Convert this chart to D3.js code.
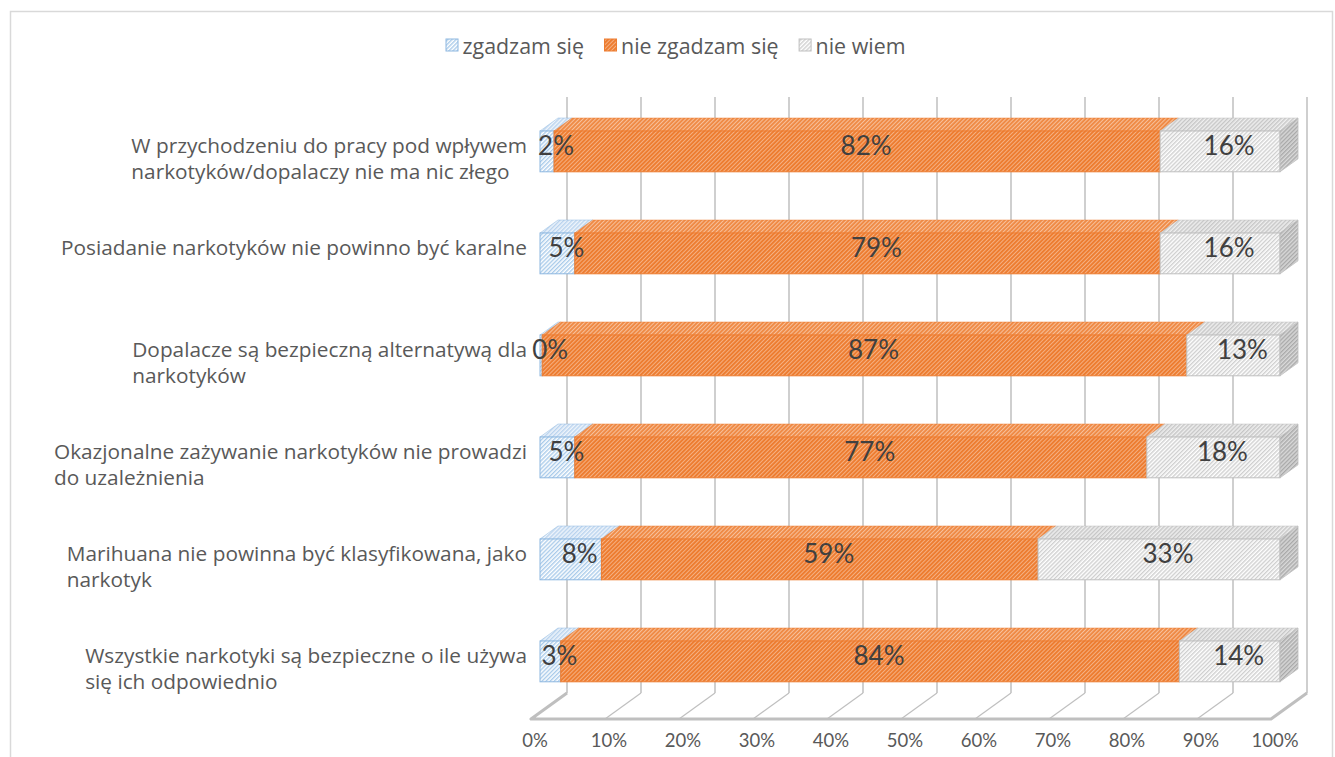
<!DOCTYPE html>
<html><head><meta charset="utf-8">
<script src="https://cdn.jsdelivr.net/npm/d3@7"></script>
<style>
html,body{margin:0;padding:0;background:#fff;}
text{font-family:Lato,"Open Sans",sans-serif;}
text.os{font-family:"Open Sans",Lato,sans-serif;}
</style>
</head><body>
<svg id="chart" width="1335" height="757"></svg>
<script>
// ---- data ----
const categories = [
  "W przychodzeniu do pracy pod wpływem\nnarkotyków/dopalaczy nie ma nic złego",
  "Posiadanie narkotyków nie powinno być karalne",
  "Dopalacze są bezpieczną alternatywą dla\nnarkotyków",
  "Okazjonalne zażywanie narkotyków nie prowadzi\ndo uzależnienia",
  "Marihuana nie powinna być klasyfikowana, jako\nnarkotyk",
  "Wszystkie narkotyki są bezpieczne o ile używa\nsię ich odpowiednio"
];
const seriesNames = ["zgadzam się", "nie zgadzam się", "nie wiem"];
const agree    = [1.9, 4.7, 0.3, 4.7, 8.3, 2.8];
const disagree = [81.9, 79.1, 87.1, 77.3, 59.0, 83.6];
const dontKnow = [16.2, 16.2, 12.6, 18.0, 32.7, 13.6];
const tickValues = [0, 10, 20, 30, 40, 50, 60, 70, 80, 90, 100];
const tickLabels = ["0%", "10%", "20%", "30%", "40%", "50%", "60%", "70%", "80%", "90%", "100%"];

// ---- layout ----
const svg = d3.select("#chart");
const x = d3.scaleLinear().domain([0, 100]).range([540, 1280]);
const y = d3.scaleBand().domain(categories).range([100.4, 712.4]).paddingInner(0.6).paddingOuter(0.3);
const DX = 36, DY = 26;           // full depth of the 3D floor
const bDX = DX / 2, bDY = DY / 2; // bar depth
const frontOff = {dx: -DX / 4, dy: DY / 4};
const wallOff = {dx: DX * 3 / 4, dy: -DY * 3 / 4};
const floorFrontY = 719, floorBackY = 693, wallTop = 97;

// outer frame
svg.append("rect").attr("x", 10.5).attr("y", 11.5).attr("width", 1322).attr("height", 760)
  .attr("fill", "#fff").attr("stroke", "#D9D9D9").attr("stroke-width", 1.5);

// patterns
const defs = svg.append("defs");
function pattern(id, bg, stripe, sw) {
  const p = defs.append("pattern").attr("id", id).attr("patternUnits", "userSpaceOnUse")
    .attr("width", 2.9).attr("height", 2.9).attr("patternTransform", "rotate(45)");
  p.append("rect").attr("width", 2.9).attr("height", 2.9).attr("fill", bg);
  p.append("rect").attr("width", sw).attr("height", 2.9).attr("fill", stripe);
}
const styles = [
  {front: ["#FFFFFF", "#A9CBEA", 1.4], top: ["#EEF4FB", "#B9D3EE", 1.4], side: ["#D6E5F4", "#8DB7E0", 1.4], stroke: "#8DB7E0"},
  {front: ["#ED7D31", "#F6B488", 0.9], top: ["#EF8A45", "#F7C09B", 1.0], side: ["#D66A22", "#EC9A62", 1.0], stroke: "#ED7D31"},
  {front: ["#FFFFFF", "#CFCFCF", 1.4], top: ["#EFEFEF", "#C6C6C6", 1.4], side: ["#D9D9D9", "#A9A9A9", 1.4], stroke: "#BFBFBF"}
];
styles.forEach((s, i) => {
  pattern("f" + i, ...s.front);
  pattern("t" + i, ...s.top);
  pattern("s" + i, ...s.side);
});

// back wall gridlines
svg.append("g").selectAll("line").data(tickValues).join("line")
  .attr("x1", d => x(d) + wallOff.dx).attr("x2", d => x(d) + wallOff.dx)
  .attr("y1", wallTop).attr("y2", floorBackY)
  .attr("stroke", "#BFBFBF").attr("stroke-width", 1.5);

// floor
const floor = svg.append("g");
floor.selectAll("line").data(tickValues).join("line")
  .attr("x1", d => x(d) + frontOff.dx).attr("y1", floorFrontY)
  .attr("x2", d => x(d) + wallOff.dx).attr("y2", floorBackY)
  .attr("stroke", "#BFBFBF").attr("stroke-width", 1.2);
floor.append("path")
  .attr("d", `M${x(0) + wallOff.dx},${floorBackY} L${x(0) + frontOff.dx},${floorFrontY} L${x(100) + frontOff.dx},${floorFrontY} L${x(100) + wallOff.dx},${floorBackY}`)
  .attr("fill", "none").attr("stroke", "#BFBFBF").attr("stroke-width", 3).attr("stroke-linejoin", "round");

// tick labels
svg.append("g").selectAll("text").data(tickValues).join("text")
  .attr("x", d => x(d) - 5).attr("y", 740)
  .attr("text-anchor", "middle").attr("dominant-baseline", "central")
  .attr("font-size", 18.5).attr("fill", "#595959")
  .text((d, i) => tickLabels[i]);

// bars
const series = [agree, disagree, dontKnow];
const rows = categories.map((c, ri) => {
  let acc = 0;
  return series.map((s, si) => {
    const v0 = acc; acc += s[ri];
    return {cat: c, si, v0, v1: acc, v: s[ri]};
  });
});
const barG = svg.append("g");
rows.forEach((segs, ri) => {
  const g = barG.append("g");
  const yT = y(categories[ri]), yB = yT + y.bandwidth();
  segs.forEach((d, k) => {
    const x0 = x(d.v0), x1 = x(d.v1);
    const st = styles[d.si];
    g.append("path")
      .attr("d", `M${x0},${yT} L${x1},${yT} L${x1 + bDX},${yT - bDY} L${x0 + bDX},${yT - bDY}Z`)
      .attr("fill", `url(#t${d.si})`).attr("stroke", st.stroke).attr("stroke-width", 0.8).attr("stroke-opacity", 0.6);
    g.append("rect").attr("x", x0).attr("y", yT).attr("width", Math.max(0, x1 - x0)).attr("height", y.bandwidth())
      .attr("fill", `url(#f${d.si})`).attr("stroke", st.stroke).attr("stroke-width", 1);
    if (k === segs.length - 1) {
      g.append("path")
        .attr("d", `M${x1},${yT} L${x1 + bDX},${yT - bDY} L${x1 + bDX},${yB - bDY} L${x1},${yB}Z`)
        .attr("fill", `url(#s${d.si})`).attr("stroke", st.stroke).attr("stroke-width", 0.8);
    }
  });
});

// data labels
const lbl = svg.append("g");
rows.forEach((segs, ri) => {
  const yc = y(categories[ri]) + y.bandwidth() / 2 - bDY / 2;
  segs.forEach(d => {
    lbl.append("text")
      .attr("x", (x(d.v0) + x(d.v1)) / 2 + bDX / 2).attr("y", yc)
      .attr("text-anchor", "middle").attr("dominant-baseline", "central")
      .attr("font-size", 26).attr("fill", "#404040")
      .text(Math.round(d.v) + "%");
  });
});

// category labels
const catG = svg.append("g");
categories.forEach((c, ri) => {
  const lines = c.split("\n");
  const yc = y(c) + y.bandwidth() / 2 - bDY / 2;
  const t = catG.append("text").attr("class", "os").attr("font-size", 20.8).attr("fill", "#595959");
  const spans = lines.map((ln, li) => t.append("tspan").attr("dominant-baseline", "central")
    .attr("y", yc + li * 26).text(ln));
  const maxW = d3.max(spans, s => s.node().getComputedTextLength());
  spans.forEach(s => s.attr("x", 527 - maxW));
});

// legend
const leg = svg.append("g");
let lx = 0;
seriesNames.forEach((n, i) => {
  const g = leg.append("g").attr("transform", `translate(${lx},0)`);
  g.append("rect").attr("x", 0.5).attr("y", -6).attr("width", 12).attr("height", 12)
    .attr("fill", `url(#f${i})`).attr("stroke", styles[i].stroke);
  const tx = g.append("text").attr("class", "os").attr("x", 17).attr("y", 0).attr("dominant-baseline", "central")
    .attr("font-size", 21.4).attr("fill", "#595959").text(n);
  const w = 17 + tx.node().getComputedTextLength();
  lx += w + 20;
});
const totalW = lx - 20;
leg.attr("transform", `translate(${675.5 - totalW / 2},45)`);
</script>
</body></html>
